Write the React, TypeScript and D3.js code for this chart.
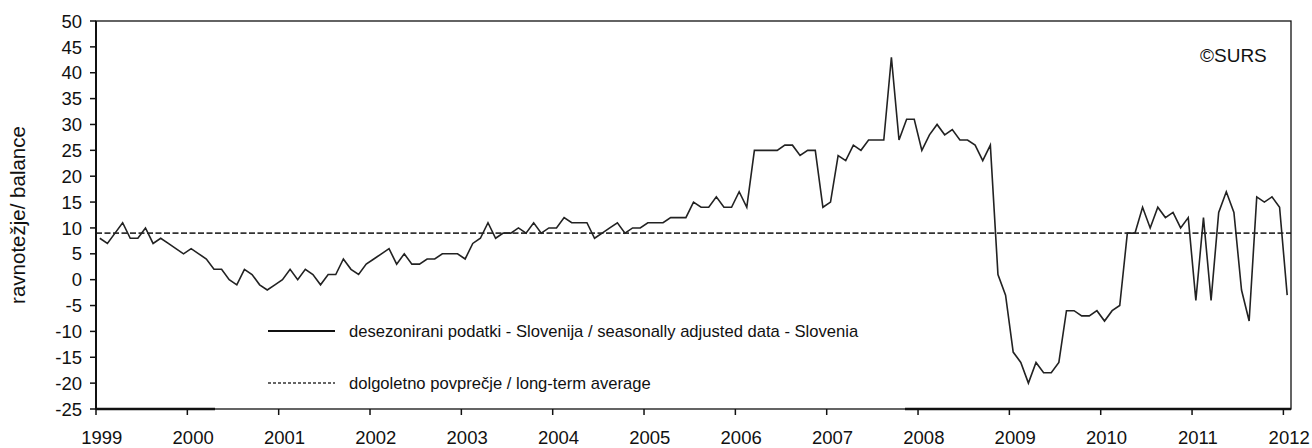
import React from "react";
import * as d3 from "d3";

// Monthly data, January 1999 – January 2012
const startYear = 1999;
const yearLabels = ["1999", "2000", "2001", "2002", "2003", "2004", "2005", "2006", "2007", "2008", "2009", "2010", "2011", "2012"];
const yTicks = [50, 45, 40, 35, 30, 25, 20, 15, 10, 5, 0, -5, -10, -15, -20, -25];
const longTermAverage = 9;

const values1999 = [8, 7, 9, 11, 8, 8, 10, 7, 8, 7, 6, 5];
const values2000 = [6, 5, 4, 2, 2, 0, -1, 2, 1, -1, -2, -1];
const values2001 = [0, 2, 0, 2, 1, -1, 1, 1, 4, 2, 1, 3];
const values2002 = [4, 5, 6, 3, 5, 3, 3, 4, 4, 5, 5, 5];
const values2003 = [4, 7, 8, 11, 8, 9, 9, 10, 9, 11, 9, 10];
const values2004 = [10, 12, 11, 11, 11, 8, 9, 10, 11, 9, 10, 10];
const values2005 = [11, 11, 11, 12, 12, 12, 15, 14, 14, 16, 14, 14];
const values2006 = [17, 14, 25, 25, 25, 25, 26, 26, 24, 25, 25, 14];
const values2007 = [15, 24, 23, 26, 25, 27, 27, 27, 43, 27, 31, 31];
const values2008 = [25, 28, 30, 28, 29, 27, 27, 26, 23, 26, 1, -3];
const values2009 = [-14, -16, -20, -16, -18, -18, -16, -6, -6, -7, -7, -6];
const values2010 = [-8, -6, -5, 9, 9, 14, 10, 14, 12, 13, 10, 12];
const values2011 = [-4, 12, -4, 13, 17, 13, -2, -8, 16, 15, 16, 14];
const values2012 = [-3];

const values = [
  ...values1999, ...values2000, ...values2001, ...values2002, ...values2003,
  ...values2004, ...values2005, ...values2006, ...values2007, ...values2008,
  ...values2009, ...values2010, ...values2011, ...values2012,
];

const legendSeries = "desezonirani podatki - Slovenija / seasonally adjusted data - Slovenia";
const legendAverage = "dolgoletno povprečje / long-term average";
const yTitle = "ravnotežje/ balance";
const copyright = "©SURS";

const W = 1312;
const H = 448;
const L = 96;
const R = 1291;
const T = 21;
const B = 409;
const FONT = "'Liberation Sans', Arial, sans-serif";

export default function App() {
  const x = d3.scaleLinear().domain([-0.5, values.length - 0.5]).range([L, R]);
  const y = d3.scaleLinear().domain([-25, 50]).range([B, T]);
  const line = d3
    .line<number>()
    .x((_, i) => x(i))
    .y((d) => y(d));

  return (
    <svg
      width={W}
      height={H}
      style={{ position: "absolute", left: 0, top: 0, background: "#fff" }}
      fontFamily={FONT}
    >
      <rect x={0} y={0} width={W} height={H} fill="#fff" />

      {/* long-term average */}
      <line
        x1={L}
        x2={R}
        y1={y(longTermAverage)}
        y2={y(longTermAverage)}
        stroke="#333"
        strokeWidth={1.8}
        strokeDasharray="6,2.5"
      />

      {/* series */}
      <path d={line(values) ?? ""} fill="none" stroke="#222" strokeWidth={1.6} strokeLinejoin="miter" />

      {/* frame */}
      <rect x={L} y={T} width={R - L} height={B - T} fill="none" stroke="#111" strokeWidth={1.3} />
      <line x1={L} x2={L} y1={T} y2={B} stroke="#111" strokeWidth={2} />
      <line x1={L} x2={215} y1={B} y2={B} stroke="#111" strokeWidth={2.5} />
      <line x1={905} x2={R} y1={B} y2={B} stroke="#111" strokeWidth={2.5} />

      {/* y axis ticks */}
      {yTicks.map((t) => (
        <g key={t}>
          <line x1={L - 6} x2={L} y1={y(t)} y2={y(t)} stroke="#111" strokeWidth={1.5} />
          <text x={82} y={y(t)} dy="0.36em" textAnchor="end" fontSize={18.5} fill="#111">
            {t}
          </text>
        </g>
      ))}

      {/* x axis ticks */}
      {yearLabels.map((lab, k) => (
        <g key={lab}>
          <line x1={x(12 * k - 0.5)} x2={x(12 * k - 0.5)} y1={B} y2={B + 6} stroke="#111" strokeWidth={1.5} />
          <text x={x(12 * k) + 2} y={444} textAnchor="middle" fontSize={18.5} fill="#111">
            {lab}
          </text>
        </g>
      ))}

      {/* y title */}
      <text
        transform={`translate(25,${215}) rotate(-90)`}
        textAnchor="middle"
        fontSize={20.5}
        fill="#111"
      >
        {yTitle}
      </text>

      {/* copyright */}
      <text x={1200} y={62} fontSize={19} fill="#111">
        {copyright}
      </text>

      {/* legend */}
      <line x1={268} x2={335} y1={331} y2={331} stroke="#111" strokeWidth={2} />
      <text x={349} y={331} dy="0.36em" fontSize={16.6} fill="#111">
        {legendSeries}
      </text>
      <line x1={268} x2={335} y1={383} y2={383} stroke="#333" strokeWidth={1.5} strokeDasharray="3,2" />
      <text x={349} y={383} dy="0.36em" fontSize={16.6} fill="#111">
        {legendAverage}
      </text>
    </svg>
  );
}
